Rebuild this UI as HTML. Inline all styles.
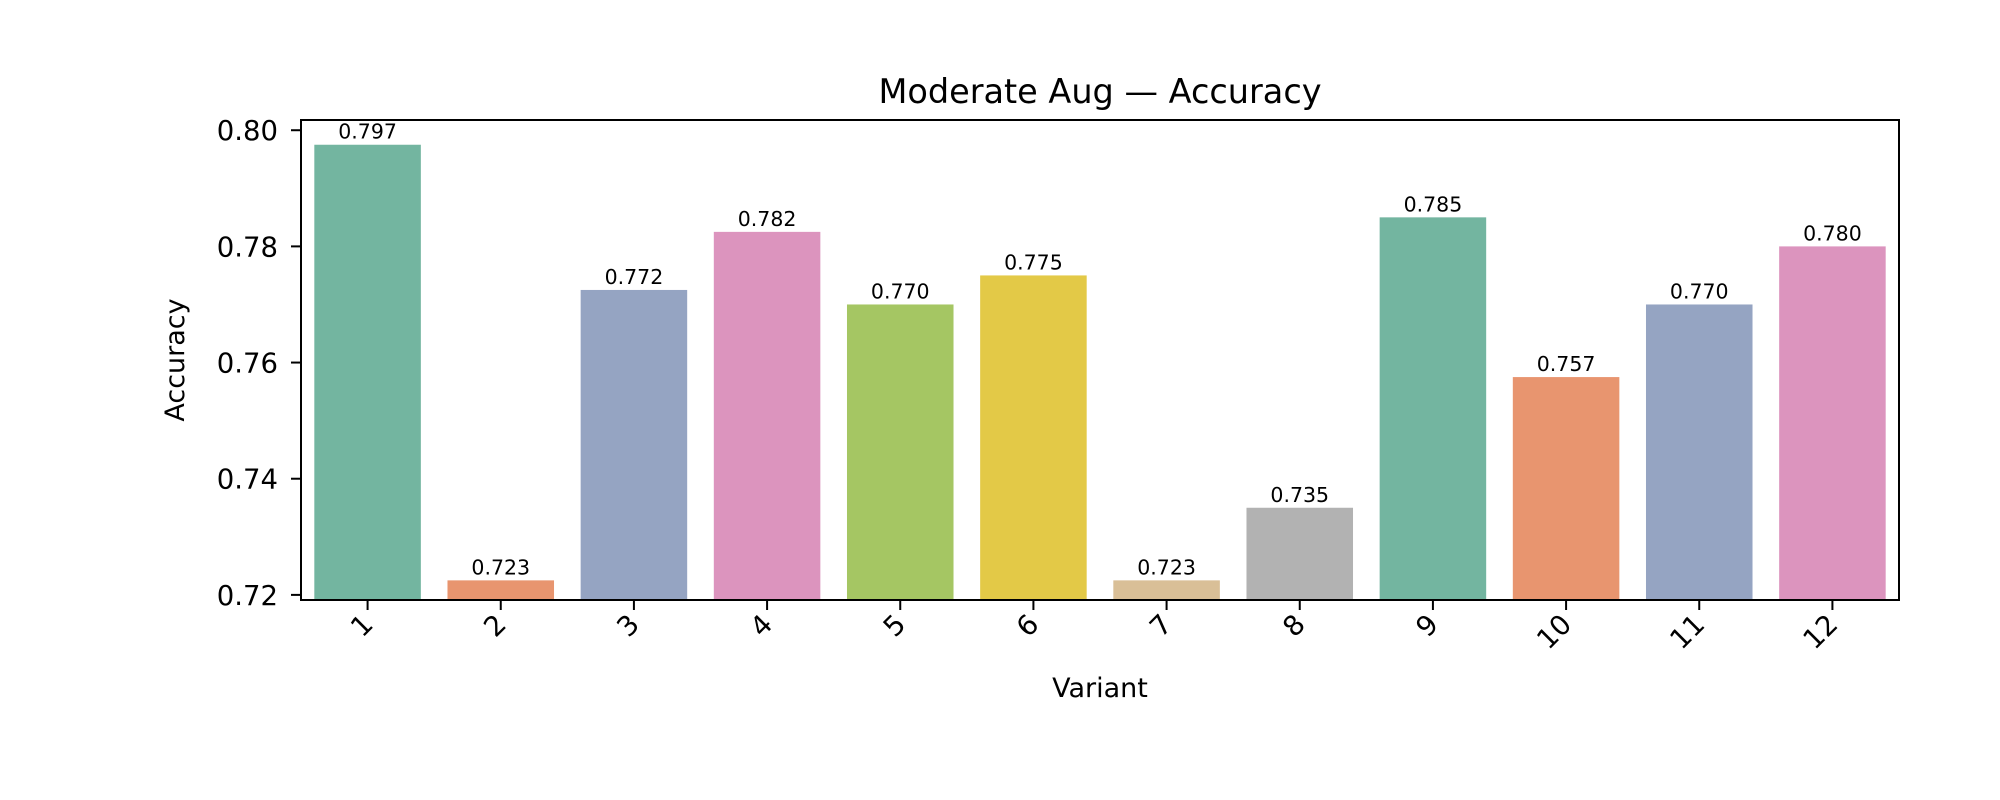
<!DOCTYPE html>
<html><head><meta charset="utf-8"><style>
html,body{margin:0;padding:0;background:#fff;}
svg{display:block;font-family:"DejaVu Sans","Liberation Sans",sans-serif;}
</style></head><body>
<svg id="chart" width="2000" height="800" viewBox="0 0 2000 800" xmlns="http://www.w3.org/2000/svg">
<rect width="2000" height="800" fill="#fff"/>
<text x="1100" y="103" font-size="33.5" text-anchor="middle" fill="#000">Moderate Aug — Accuracy</text>
<text x="0" y="0" font-size="27" text-anchor="middle" fill="#000" transform="translate(184,360) rotate(-90)">Accuracy</text>
<text x="1100" y="697" font-size="27" text-anchor="middle" fill="#000">Variant</text>
<g id="bars"></g>
<g id="yticks"></g>
<g id="xticks"></g>
<rect x="301" y="120" width="1598" height="480" fill="none" stroke="#000" stroke-width="2"/>
</svg>
<script>
const categories = ["1","2","3","4","5","6","7","8","9","10","11","12"];
const values = [0.7975,0.7225,0.7725,0.7825,0.770,0.775,0.7225,0.735,0.785,0.7575,0.770,0.780];
const valueLabels = ["0.797","0.723","0.772","0.782","0.770","0.775","0.723","0.735","0.785","0.757","0.770","0.780"];
const colors = ["#73b5a0","#e8956f","#95a4c2","#dc94be","#a5c663","#e3c947","#d9bf97","#b2b2b2","#73b5a0","#e8956f","#95a4c2","#dc94be"];
const yTicks = [0.72,0.74,0.76,0.78,0.80];
const yTickLabels = ["0.72","0.74","0.76","0.78","0.80"];

const NS = "http://www.w3.org/2000/svg";
const L = 301, R = 1899, T = 120, B = 600;
const yMin = 0.71912, yMax = 0.80176;
function y(v){ return B - (v - yMin) / (yMax - yMin) * (B - T); }
const band = (R - L) / categories.length;
function xc(i){ return L + band * (i + 0.5); }
function mk(tag, attrs){ const e = document.createElementNS(NS, tag); for (const k in attrs) e.setAttribute(k, attrs[k]); return e; }

const gb = document.getElementById("bars");
values.forEach((v, i) => {
  const w = band * 0.8;
  const r = mk("rect", {x: xc(i) - w/2, y: y(v), width: w, height: B - y(v), fill: colors[i]});
  
  
  gb.appendChild(r);
  const t = mk("text", {x: xc(i), y: y(v) - 6, "font-size": 20.5, "text-anchor": "middle", fill: "#000"});
  t.textContent = valueLabels[i];
  
  
  gb.appendChild(t);
});

const gy = document.getElementById("yticks");
yTicks.forEach((v, i) => {
  const ln = mk("line", {x1: L - 10, x2: L, y1: y(v), y2: y(v), stroke: "#000", "stroke-width": 2});
  
  
  gy.appendChild(ln);
  const t = mk("text", {x: L - 23, y: y(v) + 10, "font-size": 27.5, "text-anchor": "end", fill: "#000"});
  t.textContent = yTickLabels[i];
  
  
  gy.appendChild(t);
});

const gx = document.getElementById("xticks");
categories.forEach((c, i) => {
  const ln = mk("line", {x1: xc(i), x2: xc(i), y1: B, y2: B + 10, stroke: "#000", "stroke-width": 2});
  
  
  gx.appendChild(ln);
  const t = mk("text", {x: 0, y: 0, "font-size": 27.5, "text-anchor": "end", fill: "#000",
    transform: "translate(" + (xc(i) + 7) + "," + (B + 26) + ") rotate(-45)"});
  t.textContent = c;
  
  
  gx.appendChild(t);
});
</script>
</body></html>
